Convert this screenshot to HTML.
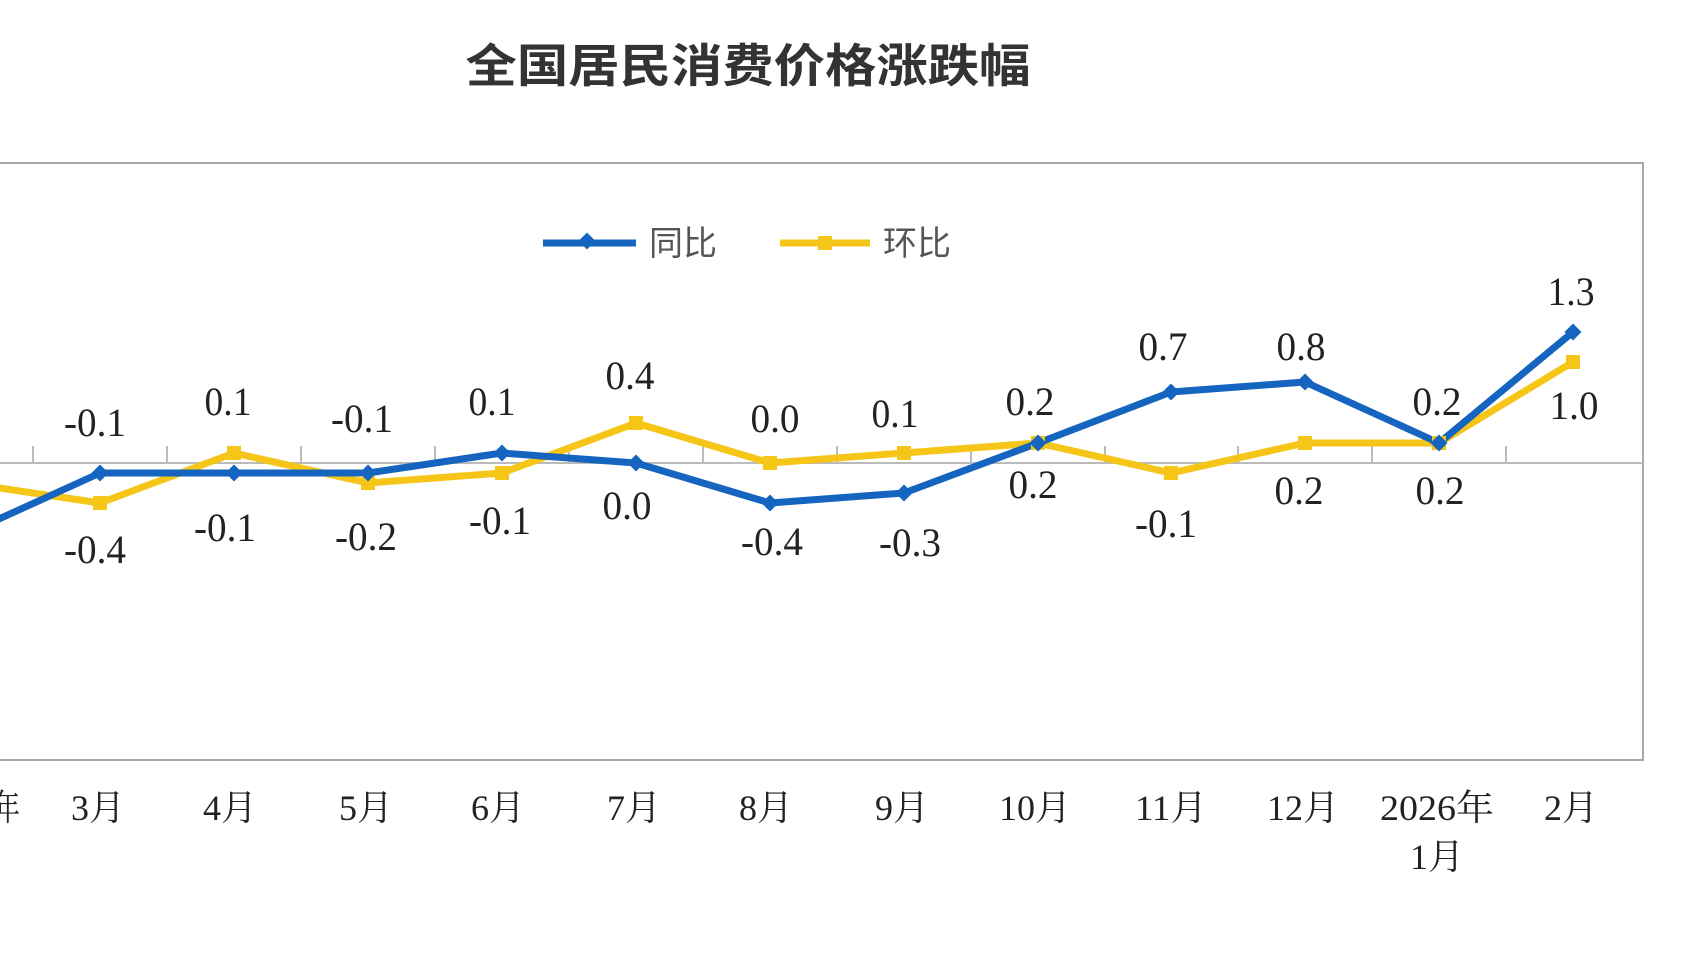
<!DOCTYPE html>
<html><head><meta charset="utf-8"><style>
html,body{margin:0;padding:0;background:#fff;}
svg{display:block;}
text{font-family:"Liberation Serif","Noto Serif CJK SC",serif;fill:#222;}
</style></head><body>
<svg width="1705" height="959" viewBox="0 0 1705 959" xmlns="http://www.w3.org/2000/svg">
<text x="748" y="82" text-anchor="middle" textLength="565" lengthAdjust="spacingAndGlyphs" style="font-family:'Liberation Sans','Noto Sans CJK SC',sans-serif;font-weight:bold;font-size:46px;fill:#333">全国居民消费价格涨跌幅</text>
<rect x="-5" y="163" width="1648" height="597" fill="none" stroke="#a8a8a8" stroke-width="2"/>
<line x1="0" y1="463" x2="1643" y2="463" stroke="#bbb" stroke-width="2"/>
<g stroke="#bbb" stroke-width="2">
<line x1="33" y1="446" x2="33" y2="463"/><line x1="167" y1="446" x2="167" y2="463"/><line x1="301" y1="446" x2="301" y2="463"/><line x1="435" y1="446" x2="435" y2="463"/><line x1="569" y1="446" x2="569" y2="463"/><line x1="703" y1="446" x2="703" y2="463"/><line x1="837" y1="446" x2="837" y2="463"/><line x1="971" y1="446" x2="971" y2="463"/><line x1="1105" y1="446" x2="1105" y2="463"/><line x1="1238" y1="446" x2="1238" y2="463"/><line x1="1372" y1="446" x2="1372" y2="463"/><line x1="1506" y1="446" x2="1506" y2="463"/>
</g>
<!-- legend -->
<line x1="543" y1="243" x2="636" y2="243" stroke="#1565c0" stroke-width="7"/>
<rect x="581" y="235" width="12" height="12" fill="#1565c0" transform="rotate(45 587 241)"/>
<text x="649" y="255" style="font-family:'Liberation Sans','Noto Sans CJK SC',sans-serif;font-size:34px;fill:#555">同比</text>
<line x1="780" y1="243" x2="870" y2="243" stroke="#f5c518" stroke-width="7"/>
<rect x="818" y="236" width="14" height="14" fill="#f5c518"/>
<text x="883" y="255" style="font-family:'Liberation Sans','Noto Sans CJK SC',sans-serif;font-size:34px;fill:#555">环比</text>
<polyline fill="none" stroke="#f5c518" stroke-width="7" stroke-linejoin="round" points="-34,483 100,503 234,453 368,483 502,473 636,423 770,463 904,453 1038,443 1171,473 1305,443 1439,443 1573,362"/>
<polyline fill="none" stroke="#1565c0" stroke-width="7" stroke-linejoin="round" points="-34,534 100,473 234,473 368,473 502,453 636,463 770,503 904,493 1038,443 1171,392 1305,382 1439,443 1573,332"/>
<g fill="#f5c518">
<rect x="93" y="496" width="14" height="14"/><rect x="227" y="446" width="14" height="14"/><rect x="361" y="476" width="14" height="14"/><rect x="495" y="466" width="14" height="14"/><rect x="629" y="416" width="14" height="14"/><rect x="763" y="456" width="14" height="14"/><rect x="897" y="446" width="14" height="14"/><rect x="1031" y="436" width="14" height="14"/><rect x="1164" y="466" width="14" height="14"/><rect x="1298" y="436" width="14" height="14"/><rect x="1432" y="436" width="14" height="14"/><rect x="1566" y="355" width="14" height="14"/>
</g>
<g fill="#1565c0">
<rect x="94" y="467" width="12" height="12" transform="rotate(45 100 473)"/><rect x="228" y="467" width="12" height="12" transform="rotate(45 234 473)"/><rect x="362" y="467" width="12" height="12" transform="rotate(45 368 473)"/><rect x="496" y="447" width="12" height="12" transform="rotate(45 502 453)"/><rect x="630" y="457" width="12" height="12" transform="rotate(45 636 463)"/><rect x="764" y="497" width="12" height="12" transform="rotate(45 770 503)"/><rect x="898" y="487" width="12" height="12" transform="rotate(45 904 493)"/><rect x="1032" y="437" width="12" height="12" transform="rotate(45 1038 443)"/><rect x="1165" y="386" width="12" height="12" transform="rotate(45 1171 392)"/><rect x="1299" y="376" width="12" height="12" transform="rotate(45 1305 382)"/><rect x="1433" y="437" width="12" height="12" transform="rotate(45 1439 443)"/><rect x="1567" y="326" width="12" height="12" transform="rotate(45 1573 332)"/>
</g>
<g font-size="40" text-anchor="middle">
<text x="95" y="436" textLength="62" lengthAdjust="spacingAndGlyphs">-0.1</text>
<text x="95" y="563" textLength="62" lengthAdjust="spacingAndGlyphs">-0.4</text>
<text x="228" y="415" textLength="47" lengthAdjust="spacingAndGlyphs">0.1</text>
<text x="225" y="541" textLength="62" lengthAdjust="spacingAndGlyphs">-0.1</text>
<text x="362" y="432" textLength="62" lengthAdjust="spacingAndGlyphs">-0.1</text>
<text x="366" y="550" textLength="62" lengthAdjust="spacingAndGlyphs">-0.2</text>
<text x="492" y="415" textLength="47" lengthAdjust="spacingAndGlyphs">0.1</text>
<text x="500" y="534" textLength="62" lengthAdjust="spacingAndGlyphs">-0.1</text>
<text x="630" y="389" textLength="49" lengthAdjust="spacingAndGlyphs">0.4</text>
<text x="627" y="519" textLength="49" lengthAdjust="spacingAndGlyphs">0.0</text>
<text x="775" y="432" textLength="49" lengthAdjust="spacingAndGlyphs">0.0</text>
<text x="772" y="555" textLength="62" lengthAdjust="spacingAndGlyphs">-0.4</text>
<text x="895" y="427" textLength="47" lengthAdjust="spacingAndGlyphs">0.1</text>
<text x="910" y="556" textLength="62" lengthAdjust="spacingAndGlyphs">-0.3</text>
<text x="1030" y="415" textLength="49" lengthAdjust="spacingAndGlyphs">0.2</text>
<text x="1033" y="498" textLength="49" lengthAdjust="spacingAndGlyphs">0.2</text>
<text x="1163" y="360" textLength="49" lengthAdjust="spacingAndGlyphs">0.7</text>
<text x="1166" y="537" textLength="62" lengthAdjust="spacingAndGlyphs">-0.1</text>
<text x="1301" y="360" textLength="49" lengthAdjust="spacingAndGlyphs">0.8</text>
<text x="1299" y="504" textLength="49" lengthAdjust="spacingAndGlyphs">0.2</text>
<text x="1437" y="415" textLength="49" lengthAdjust="spacingAndGlyphs">0.2</text>
<text x="1440" y="504" textLength="49" lengthAdjust="spacingAndGlyphs">0.2</text>
<text x="1571" y="305" textLength="47" lengthAdjust="spacingAndGlyphs">1.3</text>
<text x="1574" y="419" textLength="49" lengthAdjust="spacingAndGlyphs">1.0</text>
</g>
<g font-size="36" text-anchor="middle">
<text x="-20" y="820" textLength="80" lengthAdjust="spacingAndGlyphs">2025年</text>
<text x="-34" y="869">2月</text>
<text x="98" y="820" textLength="54" lengthAdjust="spacingAndGlyphs">3月</text>
<text x="230" y="820" textLength="54" lengthAdjust="spacingAndGlyphs">4月</text>
<text x="366" y="820" textLength="54" lengthAdjust="spacingAndGlyphs">5月</text>
<text x="498" y="820" textLength="54" lengthAdjust="spacingAndGlyphs">6月</text>
<text x="634" y="820" textLength="54" lengthAdjust="spacingAndGlyphs">7月</text>
<text x="766" y="820" textLength="54" lengthAdjust="spacingAndGlyphs">8月</text>
<text x="902" y="820" textLength="54" lengthAdjust="spacingAndGlyphs">9月</text>
<text x="1035" y="820" textLength="72" lengthAdjust="spacingAndGlyphs">10月</text>
<text x="1171" y="820" textLength="72" lengthAdjust="spacingAndGlyphs">11月</text>
<text x="1303" y="820" textLength="72" lengthAdjust="spacingAndGlyphs">12月</text>
<text x="1437" y="820" textLength="114" lengthAdjust="spacingAndGlyphs">2026年</text>
<text x="1437" y="869" textLength="54" lengthAdjust="spacingAndGlyphs">1月</text>
<text x="1571" y="820" textLength="54" lengthAdjust="spacingAndGlyphs">2月</text>
</g>
</svg>
</body></html>
